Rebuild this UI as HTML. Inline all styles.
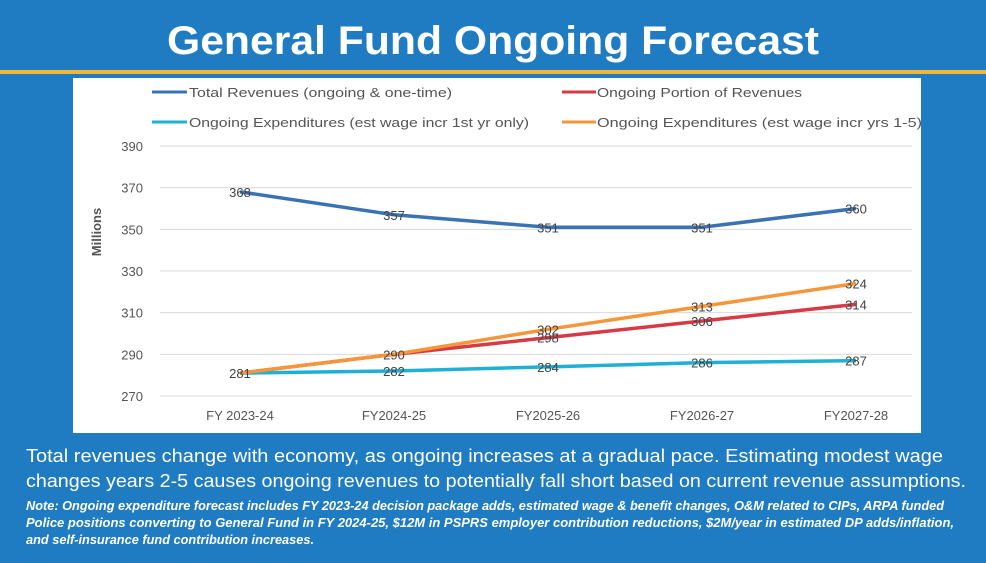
<!DOCTYPE html>
<html><head><meta charset="utf-8"><style>
html,body{margin:0;padding:0;background:#1f7bc2;}
svg{display:block;font-family:"Liberation Sans",sans-serif;}
</style></head><body>
<svg id="c" width="986" height="563" viewBox="0 0 986 563">
<rect x="0" y="0" width="986" height="563" fill="#1f7bc2"/>
<text x="493" y="54" text-anchor="middle" font-size="40" font-weight="bold" fill="#fff" textLength="652" lengthAdjust="spacingAndGlyphs">General Fund Ongoing Forecast</text>
<rect x="0" y="70" width="986" height="4" fill="#f0b63a"/>
<rect x="73" y="78" width="848" height="355" fill="#fff"/>
<g id="legend">
<g><line x1="152" y1="92" x2="187" y2="92" stroke="#3a73b5" stroke-width="3"/><text x="189" y="97" font-size="13" fill="#555" textLength="263" lengthAdjust="spacingAndGlyphs">Total Revenues (ongoing &amp; one-time)</text></g>
<g><line x1="562" y1="92" x2="596" y2="92" stroke="#d63a44" stroke-width="3"/><text x="597" y="97" font-size="13" fill="#555" textLength="205" lengthAdjust="spacingAndGlyphs">Ongoing Portion of Revenues</text></g>
<g><line x1="152" y1="122" x2="187" y2="122" stroke="#1fb0d5" stroke-width="3"/><text x="189" y="127" font-size="13" fill="#555" textLength="340" lengthAdjust="spacingAndGlyphs">Ongoing Expenditures (est wage incr 1st yr only)</text></g>
<g><line x1="562" y1="122" x2="596" y2="122" stroke="#f5963a" stroke-width="3"/><text x="597" y="127" font-size="13" fill="#555" textLength="325" lengthAdjust="spacingAndGlyphs">Ongoing Expenditures (est wage incr yrs 1-5)</text></g>
</g>
<g id="grid"></g><g id="axes"></g><g id="series"></g><g id="labels"></g>
<text transform="translate(101,232) rotate(-90)" text-anchor="middle" font-size="13" font-weight="bold" fill="#555">Millions</text>
<text x="26" y="462" font-size="18.5" fill="#fff" textLength="917" lengthAdjust="spacingAndGlyphs">Total revenues change with economy, as ongoing increases at a gradual pace.  Estimating modest wage</text>
<text x="26" y="487" font-size="18.5" fill="#fff" textLength="940" lengthAdjust="spacingAndGlyphs">changes years 2-5 causes ongoing revenues to potentially fall short based on current revenue assumptions.</text>
<g font-size="13" font-style="italic" font-weight="bold" fill="#fff">
<text x="26" y="510" textLength="918" lengthAdjust="spacingAndGlyphs">Note: Ongoing expenditure forecast includes FY 2023-24 decision package adds, estimated wage &amp; benefit changes, O&amp;M related to CIPs, ARPA funded</text>
<text x="26" y="527" textLength="928" lengthAdjust="spacingAndGlyphs">Police positions converting to General Fund in FY 2024-25, $12M in PSPRS employer contribution reductions, $2M/year in estimated DP adds/inflation,</text>
<text x="26" y="544" textLength="288" lengthAdjust="spacingAndGlyphs">and self-insurance fund contribution increases.</text>
</g>
</svg>
<script>
const categories = ["FY 2023-24","FY2024-25","FY2025-26","FY2026-27","FY2027-28"];
const totalRevenues = [368,357,351,351,360];
const ongoingRevenues = [281,290,298,306,314];
const expenditures1st = [281,282,284,286,287];
const expenditures15 = [281,290,302,313,324];
const yTicks = [270,290,310,330,350,370,390];
const NS="http://www.w3.org/2000/svg";
function x(i){return 240+i*154;}
function y(v){return 396-(v-270)*(250/120);}
function mk(t,a,p){const e=document.createElementNS(NS,t);for(const k in a)e.setAttribute(k,a[k]);p.appendChild(e);return e;}
const grid=document.getElementById('grid'),axes=document.getElementById('axes'),ser=document.getElementById('series'),lab=document.getElementById('labels');
yTicks.forEach(v=>{
 const l=mk('line',{x1:160,x2:912,y1:y(v),y2:y(v),stroke:'#d9d9d9','stroke-width':1},grid);
 
 
 const t=mk('text',{x:143,y:y(v)+5,'text-anchor':'end','font-size':13,fill:'#555'},axes);
 t.textContent=v;
 
 
});
categories.forEach((c,i)=>{
 const t=mk('text',{x:x(i),y:420,'text-anchor':'middle','font-size':13,fill:'#555'},axes);
 t.textContent=c;
 
 
});
const series=[["total-revenues",totalRevenues,"#3a73b5"],["ongoing-revenues",ongoingRevenues,"#d63a44"],["expenditures-1st-yr",expenditures1st,"#1fb0d5"],["expenditures-yrs-1-5",expenditures15,"#f5963a"]];
series.forEach(([n,d,col])=>{
 const pts=d.map((v,i)=>x(i)+','+y(v)).join(' ');
 const p=mk('polyline',{points:pts,fill:'none',stroke:col,'stroke-width':3.5,'stroke-linejoin':'round'},ser);
 
 
});
const shown=[[totalRevenues,[0,1,2,3,4]],[ongoingRevenues,[1,2,3,4]],[expenditures1st,[0,1,2,3,4]],[expenditures15,[2,3,4]]];
shown.forEach(([d,idx],s)=>{
 idx.forEach(i=>{
  const t=mk('text',{x:x(i),y:y(d[i])+5,'text-anchor':'middle','font-size':13,fill:'#444'},lab);
  t.textContent=d[i];
  
  
 });
});
</script>
</body></html>
